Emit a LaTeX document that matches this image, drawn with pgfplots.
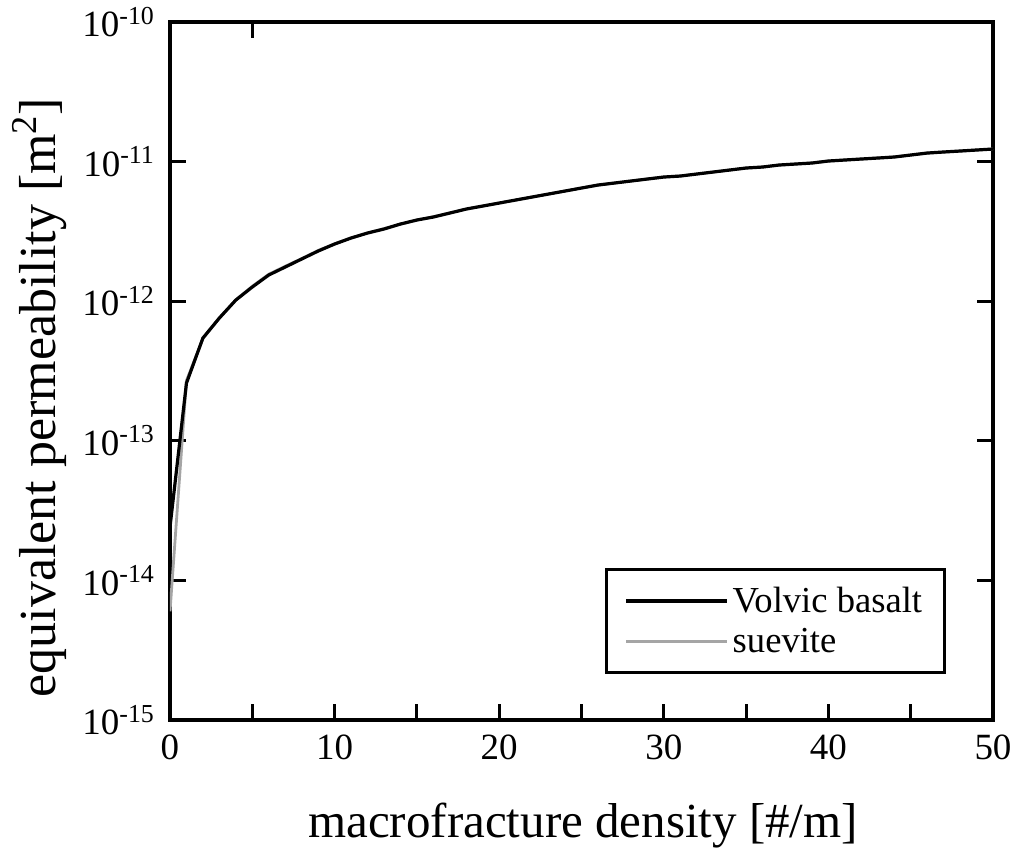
\documentclass[border=0pt]{standalone}
\usepackage{fontspec}
\setmainfont{Liberation Serif}
\usepackage{pgfplots}
\pgfplotsset{compat=1.18}
\definecolor{suegray}{RGB}{165,165,165}
\begin{document}
\begin{tikzpicture}
\useasboundingbox (-85pt,-64pt) rectangle (424.5pt,360pt);
\begin{axis}[
  at={(0pt,0pt)}, anchor=south west,
  scale only axis, width=411.5pt, height=349pt,
  xmin=0, xmax=50, ymin=1e-15, ymax=1e-10, ymode=log,
  axis line style={line width=1.6pt},
  every tick/.style={black, line width=1.4pt},
  major tick length=8pt, tick align=inside,
  xtick pos=left, ytick pos=both,
  xtick={0,5,...,50}, xticklabels={0,,10,,20,,30,,40,,50},
  ytick={1e-15,1e-14,1e-13,1e-12,1e-11,1e-10},
  yticklabels={10\textsuperscript{-15},10\textsuperscript{-14},10\textsuperscript{-13},10\textsuperscript{-12},10\textsuperscript{-11},10\textsuperscript{-10}},
  yminorticks=false,
  tick label style={font=\fontsize{18.5}{20}\selectfont},
  xticklabel style={yshift=-4pt},
  yticklabel style={xshift=-4pt},
  xlabel={macrofracture density [\#/m]},
  ylabel={equivalent permeability [m\textsuperscript{2}]},
  xlabel style={font=\fontsize{24.5}{28}\selectfont, at={(axis description cs:0.502,-0.169)}, anchor=base},
  ylabel style={font=\fontsize{26}{28}\selectfont, at={(axis description cs:-0.1397,0.462)}, anchor=base},
  legend style={at={(axis description cs:0.5286,0.066)}, anchor=south west,
    draw=black, line width=1.5pt, font=\fontsize{18.3}{20}\selectfont,
    inner xsep=9pt, inner ysep=6.5pt, row sep=2.5pt},
  legend cell align=left,
  reverse legend,
  legend image code/.code={\draw[#1] (0pt,0pt) -- (50.5pt,0pt);},
]
\addplot[suegray, line width=1.4pt] table {
x y
0 6.0e-15
1 2.7e-13
2 5.4e-13
3 7.6e-13
4 1.02e-12
5 1.28e-12
6 1.56e-12
7 1.78e-12
8 2.02e-12
9 2.31e-12
10 2.58e-12
11 2.84e-12
12 3.08e-12
13 3.31e-12
14 3.56e-12
15 3.82e-12
16 4.03e-12
17 4.29e-12
18 4.57e-12
19 4.81e-12
20 5.06e-12
21 5.31e-12
22 5.58e-12
23 5.86e-12
24 6.16e-12
25 6.47e-12
26 6.78e-12
27 7.02e-12
28 7.27e-12
29 7.51e-12
30 7.76e-12
31 7.90e-12
32 8.15e-12
33 8.42e-12
34 8.70e-12
35 9.00e-12
36 9.15e-12
37 9.45e-12
38 9.61e-12
39 9.78e-12
40 1.010e-11
41 1.027e-11
42 1.044e-11
43 1.062e-11
44 1.080e-11
45 1.115e-11
46 1.152e-11
47 1.172e-11
48 1.191e-11
49 1.211e-11
50 1.231e-11
};
\addlegendentry{suevite}
\addplot[black, line width=1.6pt] table {
x y
0 2.41e-14
1 2.59e-13
2 5.45e-13
3 7.58e-13
4 1.02e-12
5 1.264e-12
6 1.541e-12
7 1.758e-12
8 2.006e-12
9 2.288e-12
10 2.568e-12
11 2.836e-12
12 3.080e-12
13 3.290e-12
14 3.573e-12
15 3.817e-12
16 4.011e-12
17 4.282e-12
18 4.576e-12
19 4.807e-12
20 5.050e-12
21 5.308e-12
22 5.577e-12
23 5.860e-12
24 6.157e-12
25 6.470e-12
26 6.799e-12
27 7.026e-12
28 7.261e-12
29 7.505e-12
30 7.756e-12
31 7.884e-12
32 8.150e-12
33 8.423e-12
34 8.706e-12
35 8.999e-12
36 9.147e-12
37 9.454e-12
38 9.612e-12
39 9.772e-12
40 1.010e-11
41 1.027e-11
42 1.044e-11
43 1.061e-11
44 1.079e-11
45 1.115e-11
46 1.152e-11
47 1.172e-11
48 1.191e-11
49 1.211e-11
50 1.231e-11
};
\addlegendentry{Volvic basalt}
\draw[line width=1.4pt] (axis cs:5,1e-10) -- ([yshift=-8pt]axis cs:5,1e-10);
\end{axis}
\end{tikzpicture}
\end{document}
